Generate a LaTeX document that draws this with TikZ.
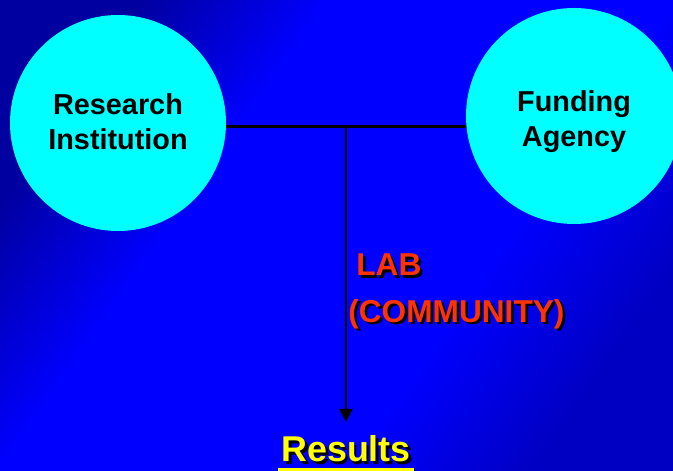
\documentclass[tikz,border=0pt]{standalone}
\usepackage{fontspec}
\setmainfont{Liberation Sans}
\usetikzlibrary{arrows.meta}
\definecolor{slideblue}{RGB}{0,0,255}
\definecolor{slidedark}{RGB}{0,0,160}
\definecolor{slidecorner}{RGB}{0,0,195}
\definecolor{disc}{RGB}{0,255,255}
\definecolor{labred}{RGB}{255,51,0}
\definecolor{resyellow}{RGB}{255,255,0}
\pgfdeclarehorizontalshading{slidebg}{100bp}{color(0bp)=(slidedark); color(25bp)=(slidedark);
  color(38bp)=(slideblue); color(62bp)=(slideblue); color(75bp)=(slidecorner); color(100bp)=(slidecorner)}
\newcommand\shadowed[2]{\rlap{\hspace{0.08em}\raisebox{-0.08em}{\color{black}#2}}{\color{#1}#2}}
\tikzset{
  party/.style={circle, fill=disc, minimum size=4.32cm, inner sep=0pt},
  partytext/.style={inner sep=0pt, align=center, font=\bfseries\fontsize{16.4}{20}\selectfont},
  redtext/.style={anchor=west, inner sep=0pt, font=\bfseries\fontsize{18}{22}\selectfont}
}
\begin{document}
\begin{tikzpicture}
\useasboundingbox (0,0) rectangle (13.46,9.42);
\shade[shading=slidebg, shading angle=-35] (0,0) rectangle (13.46,9.42);
\begin{scope}
\clip (0,0) rectangle (13.46,9.42);
\node[party] (ri) at (2.36,6.96) {};
\node[party] (fa) at (11.48,7.10) {};
\end{scope}
\node[partytext] (ritext) at (2.36,6.98) {Research\\Institution};
\node[partytext] (fatext) at (11.48,6.98) {Funding\\Agency};
\coordinate (top) at (6.92,6.88);
\coordinate (tip) at (6.92,0.98);
\draw[line width=1.7pt] (ri.east |- top) -- (fa.west |- top);
\draw[line width=1.3pt, -{Triangle[length=7.5pt,width=7.5pt]}] (top) -- (tip);
\node[redtext] (lab) at (7.12,4.10) {\shadowed{labred}{LAB}};
\node[redtext] (comm) at (6.96,3.11) {\shadowed{labred}{(COMMUNITY)}};
\node[inner sep=0pt, font=\bfseries\fontsize{20.4}{24}\selectfont] (res) at (6.92,0.41) {\shadowed{resyellow}{Results}};
\fill[resyellow] (5.56,0) rectangle (8.28,0.06);
\end{tikzpicture}
\end{document}
